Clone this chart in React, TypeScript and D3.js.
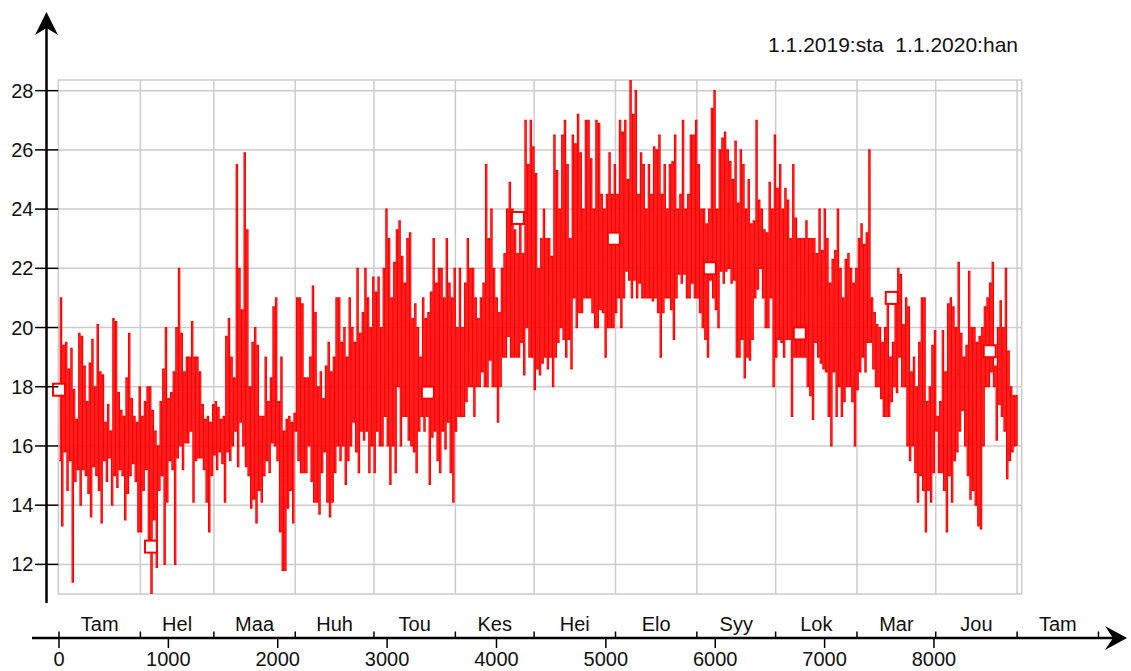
import React from 'react';
import * as d3 from 'd3';

const monthNames = ["Tam", "Hel", "Maa", "Huh", "Tou", "Kes", "Hei", "Elo", "Syy", "Lok", "Mar", "Jou", "Tam"];
const monthDays = [31, 28, 31, 30, 31, 30, 31, 31, 30, 31, 30, 31, 31];
const yTicks = [12, 14, 16, 18, 20, 22, 24, 26, 28];
const xTicks = [0, 1000, 2000, 3000, 4000, 5000, 6000, 7000, 8000];
const legendText = "1.1.2019:sta  1.1.2020:han";

// daily high / low values (°C)
const janHi = [21.0, 19.4, 19.5, 18.6, 19.3, 17.9, 16.9, 19.8, 19.7, 18.7, 17.5, 18.8, 19.6, 18.0, 20.1, 18.5, 18.4, 16.8, 17.4, 16.5, 20.3, 20.2, 17.8, 17.2, 17.0, 18.3, 19.8, 17.6, 17.0, 16.8, 18.0];
const janLo = [15.5, 13.3, 15.8, 14.5, 15.5, 11.4, 14.8, 15.2, 14.0, 15.2, 15.0, 14.4, 13.6, 15.3, 15.0, 14.5, 13.4, 15.5, 14.8, 15.6, 14.0, 15.0, 14.6, 15.2, 15.0, 13.5, 14.4, 15.0, 15.4, 14.8, 13.1];
const febHi = [17.0, 17.5, 18.0, 18.0, 17.2, 16.5, 16.0, 17.5, 18.6, 20.0, 17.6, 17.8, 18.5, 20.0, 22.0, 19.8, 18.5, 19.0, 19.0, 20.2, 19.0, 19.0, 18.5, 17.4, 16.9, 17.0, 16.8, 17.4];
const febLo = [13.1, 14.5, 15.2, 12.6, 11.0, 13.5, 11.9, 14.5, 15.0, 12.0, 14.1, 15.5, 15.2, 12.0, 15.6, 16.0, 15.2, 16.1, 16.1, 16.5, 14.1, 15.5, 15.6, 15.6, 15.2, 14.1, 13.1, 15.0];
const marHi = [17.5, 17.3, 16.9, 17.0, 19.7, 20.3, 19.0, 18.3, 25.5, 22.0, 20.6, 25.9, 23.3, 18.0, 19.5, 20.0, 19.4, 17.0, 17.0, 19.0, 17.5, 18.3, 20.7, 21.0, 17.5, 19.0, 16.5, 16.9, 17.0, 16.8, 17.1];
const marLo = [15.7, 15.2, 15.8, 15.4, 14.1, 15.8, 15.5, 16.0, 16.5, 15.3, 16.8, 16.0, 15.3, 15.0, 13.9, 14.2, 13.4, 14.5, 14.1, 15.0, 15.5, 15.1, 16.1, 16.0, 15.5, 13.1, 11.8, 11.8, 13.9, 14.5, 13.4];
const aprHi = [21.0, 21.0, 20.8, 18.3, 18.3, 19.0, 21.4, 20.5, 18.0, 18.5, 17.6, 18.7, 19.5, 18.5, 19.0, 21.0, 21.0, 19.5, 20.0, 19.0, 21.0, 20.0, 19.5, 22.0, 19.8, 20.5, 22.0, 21.0, 20.0, 21.7];
const aprLo = [16.5, 15.5, 15.1, 15.1, 15.1, 16.0, 14.8, 14.1, 14.1, 13.7, 15.1, 15.8, 14.1, 13.6, 14.1, 15.1, 16.0, 15.5, 16.0, 14.7, 15.5, 16.0, 16.8, 15.8, 15.1, 16.5, 16.2, 16.5, 15.1, 16.0];
const mayHi = [21.2, 21.7, 20.0, 22.0, 24.0, 23.0, 21.0, 22.2, 23.3, 23.6, 22.4, 21.5, 23.0, 23.2, 20.3, 20.8, 20.0, 19.0, 21.0, 20.3, 20.5, 21.2, 23.0, 21.5, 22.0, 22.0, 21.0, 23.0, 21.5, 21.0, 22.0];
const mayLo = [15.1, 16.5, 16.0, 16.0, 17.0, 16.0, 14.7, 16.0, 15.1, 18.0, 16.0, 17.0, 17.0, 16.2, 16.0, 15.8, 15.1, 16.5, 17.0, 16.5, 17.0, 14.7, 16.3, 16.5, 15.5, 15.1, 16.5, 15.9, 16.8, 15.1, 14.1];
const junHi = [20.0, 22.0, 20.0, 21.5, 23.0, 22.0, 22.0, 21.0, 20.3, 21.0, 21.5, 25.5, 23.0, 24.0, 22.0, 21.0, 20.5, 22.0, 22.5, 24.0, 24.9, 24.0, 23.3, 22.5, 23.5, 22.5, 27.0, 25.5, 27.0, 26.1];
const junLo = [16.5, 17.0, 17.0, 17.0, 17.5, 18.0, 18.0, 17.0, 18.0, 18.0, 18.5, 18.0, 18.0, 18.9, 18.0, 18.0, 16.8, 18.0, 19.0, 19.0, 19.7, 19.0, 19.0, 19.0, 19.0, 19.5, 18.4, 20.0, 19.0, 19.0];
const julHi = [25.2, 22.0, 23.0, 24.0, 23.0, 23.0, 22.4, 26.5, 25.3, 24.0, 26.5, 27.0, 25.5, 23.0, 26.5, 26.2, 27.2, 25.9, 24.0, 27.0, 27.0, 25.7, 24.0, 27.0, 26.9, 24.5, 24.0, 24.5, 25.9, 24.5, 25.5];
const julLo = [17.9, 18.6, 18.4, 18.8, 19.0, 18.6, 19.0, 18.0, 19.0, 19.5, 20.0, 19.6, 19.0, 19.6, 18.6, 21.0, 20.0, 20.5, 20.5, 21.0, 21.0, 21.0, 20.5, 20.0, 20.0, 20.6, 20.5, 19.0, 20.0, 20.0, 20.0];
const augHi = [24.5, 27.0, 26.6, 27.0, 25.0, 28.4, 27.2, 28.0, 24.5, 25.9, 25.5, 24.0, 25.5, 24.5, 26.1, 26.0, 26.5, 24.5, 25.5, 24.0, 25.5, 25.6, 26.5, 24.0, 24.5, 27.0, 24.0, 24.5, 26.5, 26.5, 27.0];
const augLo = [20.5, 21.0, 20.0, 21.0, 21.9, 21.6, 21.0, 21.6, 21.0, 21.5, 21.0, 21.0, 21.0, 21.0, 20.9, 21.0, 20.5, 19.0, 20.5, 21.0, 21.0, 20.6, 19.6, 21.0, 21.8, 21.5, 21.8, 21.0, 21.0, 21.5, 21.0];
const sepHi = [25.5, 24.0, 24.0, 23.5, 24.0, 27.4, 28.0, 24.0, 26.0, 26.4, 26.6, 26.0, 25.6, 25.0, 26.3, 24.2, 26.0, 25.5, 24.0, 25.0, 23.5, 23.6, 27.0, 24.3, 24.0, 23.3, 23.2, 24.9, 24.0, 26.5];
const sepLo = [21.0, 20.5, 20.0, 19.6, 19.0, 21.6, 21.0, 20.6, 20.0, 21.9, 21.5, 21.9, 22.0, 21.5, 21.6, 19.0, 19.0, 19.6, 18.3, 19.0, 18.9, 19.6, 21.0, 21.3, 22.0, 21.0, 20.0, 20.0, 21.0, 18.0];
const octHi = [24.7, 25.5, 24.0, 24.7, 24.3, 23.0, 25.5, 23.7, 23.0, 23.0, 23.0, 23.6, 23.0, 23.0, 23.0, 22.5, 24.0, 22.6, 24.0, 23.0, 21.5, 22.3, 22.6, 24.0, 22.0, 21.0, 22.3, 22.5, 22.0, 21.5, 22.0];
const octLo = [19.0, 19.6, 19.5, 19.0, 19.6, 19.6, 17.0, 19.0, 19.0, 19.0, 19.0, 19.0, 18.0, 17.7, 16.9, 19.5, 19.0, 18.8, 18.6, 18.5, 17.0, 16.0, 18.5, 17.0, 18.0, 17.0, 17.5, 18.0, 18.0, 17.5, 16.0];
const novHi = [23.0, 23.5, 22.8, 23.2, 26.0, 21.0, 20.5, 20.1, 20.0, 19.5, 20.0, 21.0, 19.0, 19.5, 20.8, 22.0, 21.8, 20.1, 21.0, 20.7, 18.5, 19.0, 18.0, 19.5, 21.0, 21.0, 17.5, 18.0, 19.4, 19.9];
const novLo = [17.9, 18.5, 19.0, 18.5, 19.5, 19.5, 18.6, 18.0, 18.0, 17.6, 17.0, 17.0, 17.0, 17.5, 18.0, 17.8, 19.0, 18.0, 18.0, 16.0, 15.5, 16.0, 15.1, 14.1, 15.0, 14.5, 13.1, 14.5, 14.1, 15.1];
const decHi = [17.0, 17.5, 19.9, 18.5, 20.8, 21.0, 20.7, 20.0, 22.2, 19.8, 19.0, 19.4, 21.9, 20.0, 20.0, 19.5, 19.7, 20.0, 20.7, 21.0, 21.5, 22.2, 18.7, 20.0, 20.9, 20.0, 22.0, 19.2, 18.0, 17.7, 17.7];
const decLo = [16.5, 15.1, 15.1, 14.5, 13.1, 15.0, 14.1, 15.5, 15.8, 16.5, 17.2, 16.0, 15.0, 14.2, 14.5, 14.0, 13.3, 13.2, 16.0, 18.0, 18.0, 18.5, 18.0, 16.2, 17.4, 17.0, 16.5, 14.9, 15.5, 15.8, 16.0];

// square markers on the series (hour, value)
const markerHours = [0, 841, 3373, 4196, 5073, 5951, 6773, 7614, 8510];
const markerValues = [17.9, 12.6, 17.8, 23.7, 23.0, 22.0, 19.8, 21.0, 19.2];

const W = 1131;
const H = 671;
const FONT = "'Liberation Sans', Arial, Helvetica, sans-serif";
const RED = '#ff0000';
const GRID = '#cccccc';

export default function App() {
  const x = d3.scaleLinear().domain([0, 8760]).range([59, 1017.1]);
  const y = d3.scaleLinear().domain([11, 28.36]).range([594, 80]);

  const boxL = x(-6);
  const boxR = x(8802);
  const boxT = y(28.36);
  const boxB = y(11);

  const his = [janHi, febHi, marHi, aprHi, mayHi, junHi, julHi, augHi, sepHi, octHi, novHi, decHi].flat();
  const los = [janLo, febLo, marLo, aprLo, mayLo, junLo, julLo, augLo, sepLo, octLo, novLo, decLo].flat();

  const pts: [number, number][] = [];
  his.forEach((h, i) => {
    pts.push([i * 24, los[i]]);
    pts.push([i * 24 + 12, h]);
  });
  pts.push([his.length * 24, los[los.length - 1]]);

  const line = d3
    .line<[number, number]>()
    .x((d) => x(d[0]))
    .y((d) => y(d[1]))
    .curve(d3.curveStepAfter);

  const bounds = [0, ...d3.cumsum(monthDays.map((d) => d * 24))];
  const gridX = bounds.slice(1, 13);

  const axisY = 638;
  const yAxisX = 46.5;

  return (
    <svg width={W} height={H} style={{ position: 'absolute', left: 0, top: 0, background: '#fff' }}>
      <defs>
        <clipPath id="plotClip">
          <rect x={boxL} y={boxT} width={boxR - boxL} height={boxB - boxT} />
        </clipPath>
      </defs>
      <rect x={0} y={0} width={W} height={H} fill="#fff" />

      {/* grid */}
      {yTicks.map((t) => (
        <line key={'gy' + t} x1={boxL} x2={boxR} y1={y(t)} y2={y(t)} stroke={GRID} strokeWidth={1.5} />
      ))}
      {gridX.map((h) => (
        <line key={'gx' + h} x1={x(h)} x2={x(h)} y1={boxT} y2={boxB} stroke={GRID} strokeWidth={1.5} />
      ))}
      <rect x={boxL} y={boxT} width={boxR - boxL} height={boxB - boxT} fill="none" stroke={GRID} strokeWidth={1.5} />

      {/* series */}
      <g clipPath="url(#plotClip)">
        <path d={line(pts) || ''} fill="none" stroke={RED} strokeWidth={1.2} />
      </g>

      {/* markers */}
      {markerHours.map((h, i) => (
        <rect
          key={'m' + i}
          x={x(h) - 6}
          y={y(markerValues[i]) - 6}
          width={12}
          height={12}
          fill="#fff"
          stroke={RED}
          strokeWidth={2}
        />
      ))}

      {/* y axis */}
      <line x1={yAxisX} x2={yAxisX} y1={20} y2={603} stroke="#000" strokeWidth={2.5} />
      <path d={`M${yAxisX},12 L${yAxisX - 11.5},35 L${yAxisX},28 L${yAxisX + 11.5},35 Z`} fill="#000" />
      {yTicks.map((t) => (
        <g key={'yt' + t}>
          <line x1={35} x2={boxL} y1={y(t)} y2={y(t)} stroke="#000" strokeWidth={1.5} />
          <text x={33.5} y={y(t) + 7} textAnchor="end" fontFamily={FONT} fontSize={20} fill="#111">
            {t}
          </text>
        </g>
      ))}

      {/* x axis */}
      <line x1={32} x2={1118} y1={axisY} y2={axisY} stroke="#000" strokeWidth={2.5} />
      <path d={`M1127,${axisY} L1105,${axisY - 12} L1113,${axisY} L1105,${axisY + 12} Z`} fill="#000" />
      {bounds.map((h) => (
        <line key={'mt' + h} x1={x(h)} x2={x(h)} y1={axisY - 6.5} y2={axisY} stroke="#000" strokeWidth={1.5} />
      ))}
      {xTicks.map((t) => (
        <g key={'xt' + t}>
          <line x1={x(t)} x2={x(t)} y1={axisY} y2={axisY + 10} stroke="#000" strokeWidth={1.5} />
          <text x={x(t)} y={666} textAnchor="middle" fontFamily={FONT} fontSize={20} fill="#111">
            {t}
          </text>
        </g>
      ))}
      {monthNames.map((m, i) => (
        <text
          key={'mn' + i}
          x={x((bounds[i] + bounds[i + 1]) / 2)}
          y={631}
          textAnchor="middle"
          fontFamily={FONT}
          fontSize={20}
          fill="#111"
        >
          {m}
        </text>
      ))}

      {/* legend */}
      <text x={1018} y={52} textAnchor="end" fontFamily={FONT} fontSize={21} fill="#111" style={{ whiteSpace: 'pre' }}>
        {legendText}
      </text>
    </svg>
  );
}
